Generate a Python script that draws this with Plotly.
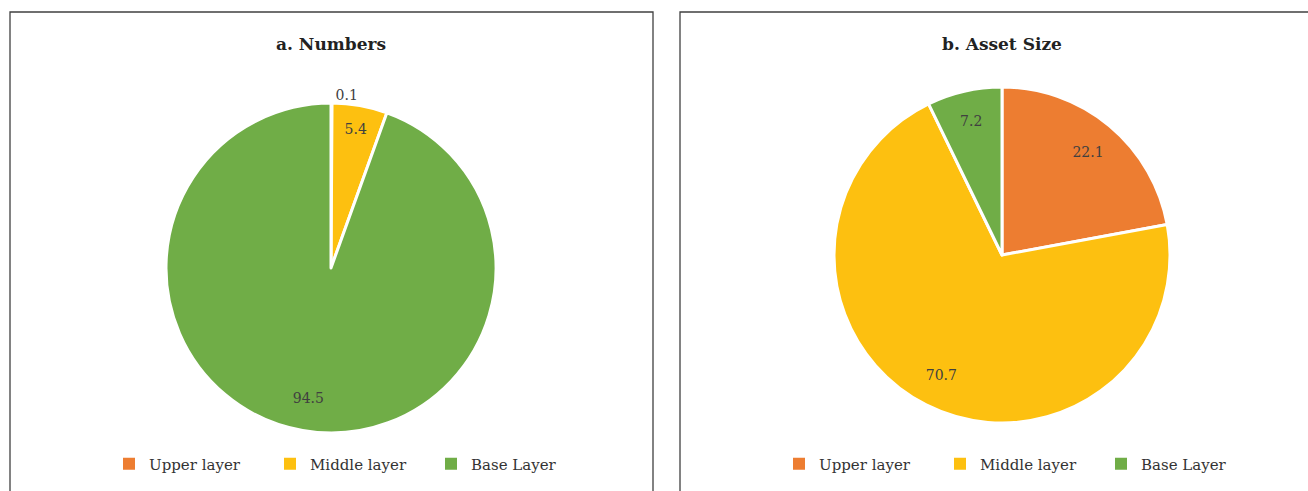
import plotly.graph_objects as go

W, H = 1308, 491

categories = ["Upper layer", "Middle layer", "Base Layer"]
numbers_values = [0.1, 5.4, 94.5]
asset_values = [22.1, 70.7, 7.2]
colors = ["#ED7D31", "#FDC010", "#70AD47"]
titles = ["a. Numbers", "b. Asset Size"]

FONT = "DejaVu Serif"
TXT = "#404040"

def px_x(v):
    return v / W

def px_y(v):
    return 1 - v / H

dom_a = dict(x=[px_x(166), px_x(496)], y=[px_y(433), px_y(103)])
dom_b = dict(x=[px_x(834), px_x(1170)], y=[px_y(423), px_y(87)])

fig = go.Figure()

# filled pies (no text)
for vals, dom in [(numbers_values, dom_a), (asset_values, dom_b)]:
    fig.add_trace(go.Pie(
        labels=categories, values=vals, sort=False, direction="clockwise",
        rotation=0, marker=dict(colors=colors, line=dict(color="white", width=3)),
        textinfo="none", domain=dom, showlegend=False, hoverinfo="label+value",
    ))

# transparent ring overlays carrying the data labels (places labels at ~0.8 r)
for vals, dom, pos in [(numbers_values, dom_a, ["outside", "inside", "inside"]),
                       (asset_values, dom_b, "inside")]:
    fig.add_trace(go.Pie(
        labels=categories, values=vals, sort=False, direction="clockwise",
        rotation=0, hole=0.6,
        marker=dict(colors=["rgba(0,0,0,0)"] * 3, line=dict(width=0)),
        texttemplate="%{value}", textposition=pos,
        insidetextorientation="horizontal",
        textfont=dict(family=FONT, size=14, color=TXT),
        domain=dom, showlegend=False, hoverinfo="skip",
    ))

# legend entries (square swatches)
for lg in ["legend", "legend2"]:
    for name, col in zip(categories, colors):
        fig.add_trace(go.Scatter(
            x=[None], y=[None], mode="markers", name=name,
            marker=dict(symbol="square", size=12, color=col),
            legend=lg, showlegend=True, hoverinfo="skip",
        ))

shapes = [
    dict(type="rect", xref="paper", yref="paper", x0=px_x(10), x1=px_x(653),
         y0=px_y(520), y1=px_y(12), line=dict(color="#404040", width=1.3)),
    dict(type="rect", xref="paper", yref="paper", x0=px_x(680), x1=px_x(1330),
         y0=px_y(520), y1=px_y(12), line=dict(color="#404040", width=1.3)),
]

annotations = [
    dict(text="<b>" + titles[0] + "</b>", x=px_x(331), y=px_y(44), xref="paper", yref="paper",
         xanchor="center", yanchor="middle",
         showarrow=False, font=dict(family=FONT, size=17, color="#222222")),
    dict(text="<b>" + titles[1] + "</b>", x=px_x(1002), y=px_y(44), xref="paper", yref="paper",
         xanchor="center", yanchor="middle",
         showarrow=False, font=dict(family=FONT, size=17, color="#222222")),
]

legend_common = dict(orientation="h", xanchor="left", yanchor="middle",
                     font=dict(family=FONT, size=15, color="#333333"),
                     bgcolor="rgba(0,0,0,0)", itemwidth=30, entrywidth=116,
                     entrywidthmode="pixels", traceorder="normal")

fig.update_layout(
    width=W, height=H, margin=dict(l=0, r=0, t=0, b=0),
    paper_bgcolor="white", plot_bgcolor="white",
    xaxis=dict(visible=False), yaxis=dict(visible=False),
    shapes=shapes, annotations=annotations,
    legend=dict(x=px_x(109), y=px_y(464), **legend_common),
    legend2=dict(x=px_x(779), y=px_y(464), **legend_common),
)

fig.write_html("out.html")
